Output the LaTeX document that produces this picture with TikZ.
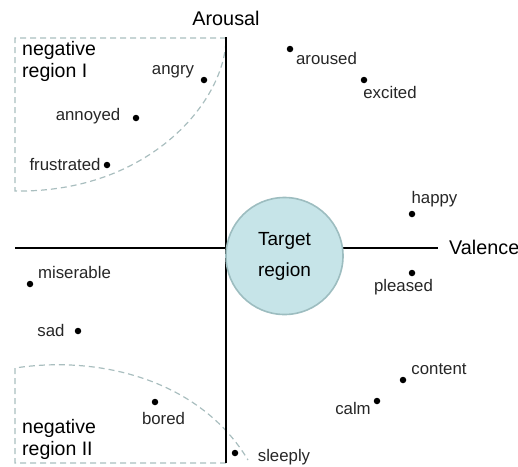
\documentclass[tikz,border=0pt]{standalone}
\usepackage{fontspec}
\setmainfont{Liberation Sans}
\definecolor{dashgrey}{HTML}{A9BEBF}
\definecolor{targetfill}{HTML}{C6E4E8}
\definecolor{targetrim}{HTML}{9DBDC0}
\definecolor{ink}{HTML}{262626}

\begin{document}
\begin{tikzpicture}[x=1pt,y=-1pt,
	dot/.style={circle,fill=black,inner sep=0pt,minimum size=6.5pt},
	word/.style={inner sep=0pt,text=ink,font=\fontsize{16.8}{16.8}\selectfont},
	axislabel/.style={inner sep=0pt,font=\fontsize{19.8}{19.8}\selectfont},
	regionlabel/.style={inner sep=0pt,align=left,font=\fontsize{19.5}{22}\selectfont},
	border/.style={draw=dashgrey,line width=1.2pt,dash pattern=on 6pt off 4pt},
	axis/.style={draw=black,line width=1.6pt}]
				\useasboundingbox (0,0) rectangle (518,466);
				
				% negative regions
				\draw[border] (226,38) -- (15,38) -- (15,191) .. controls (150,193) and (226,100) .. (226,38);
				\draw[border] (226,463) -- (15,463) -- (15,368) .. controls (100,355) and (200,380) .. (248,460);
				\node[regionlabel,anchor=west] (regionI) at (22,61) {negative\\region I};
				\node[regionlabel,anchor=west] (regionII) at (22,439) {negative\\region II};
				
				% axes
				\coordinate (top) at (226,37);
				\coordinate (bottom) at (226,463);
				\coordinate (left) at (15,248);
				\coordinate (right) at (438,248);
				\draw[axis] (top) -- (bottom);
				\draw[axis] (left) -- (right);
				\node[axislabel] (arousal) at (226,18) {Arousal};
				\node[axislabel,anchor=west] (valence) at (449,247) {Valence};
				
				\node[circle,draw=targetrim,line width=1.6pt,fill=targetfill,minimum size=117pt,inner sep=0pt,
					align=center,font=\fontsize{19}{31}\selectfont] (target) at (284.5,256) {Target\\region};
				
				% emotions
				\node[dot] (angry) at (204,80) {};
				\node[word] (angry-text) at (173,72) {angry};
				\node[dot] (annoyed) at (136,118) {};
				\node[word] (annoyed-text) at (88,116) {annoyed};
				\node[dot] (frustrated) at (107,165) {};
				\node[word] (frustrated-text) at (65,164) {frustrated};
				\node[dot] (aroused) at (290,49) {};
				\node[word] (aroused-text) at (326.5,58) {aroused};
				\node[dot] (excited) at (364,80) {};
				\node[word] (excited-text) at (390,92) {excited};
				\node[dot] (happy) at (412,214) {};
				\node[word] (happy-text) at (434.5,199) {happy};
				\node[dot] (pleased) at (412,273) {};
				\node[word] (pleased-text) at (403.5,287) {pleased};
				\node[dot] (miserable) at (30,284) {};
				\node[word] (miserable-text) at (74.5,272) {miserable};
				\node[dot] (sad) at (78,331) {};
				\node[word] (sad-text) at (51,330) {sad};
				\node[dot] (bored) at (155,402) {};
				\node[word] (bored-text) at (163.5,418) {bored};
				\node[dot] (sleeply) at (235,453) {};
				\node[word] (sleeply-text) at (284,457) {sleeply};
				\node[dot] (content) at (403,380) {};
				\node[word] (content-text) at (439,369) {content};
				\node[dot] (calm) at (377,401) {};
				\node[word] (calm-text) at (353,408) {calm};
			\end{tikzpicture}
\end{document}
